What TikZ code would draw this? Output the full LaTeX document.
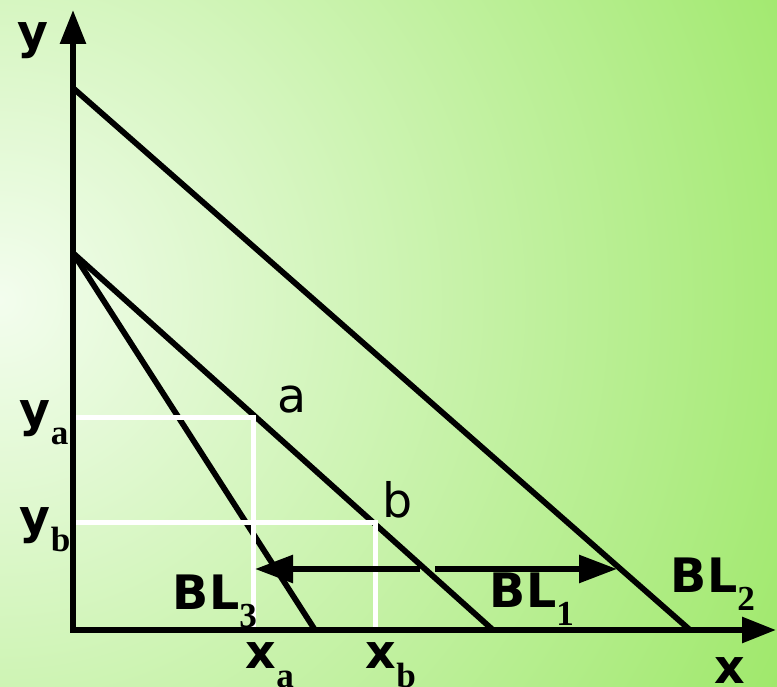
\documentclass[tikz,border=0pt]{standalone}
\usepackage{fontspec}
\setmainfont{DejaVu Sans}
\newfontfamily\subfam{Liberation Serif}
\usetikzlibrary{arrows.meta}
\definecolor{bglight}{RGB}{243,253,238}
\definecolor{bggreen}{RGB}{142,228,80}
\newcommand{\axlab}{\fontsize{27}{30}\selectfont\bfseries}
\newcommand{\ptlab}{\fontsize{27}{30}\selectfont}
\newcommand{\lowsub}[1]{\lower0.36cm\hbox{\subfam\bfseries\fontsize{20}{22}\selectfont #1}}

\begin{document}
\begin{tikzpicture}[line width=0.115cm,
  lbl/.style={anchor=base west, inner sep=0pt, font=\axlab},
  pnt/.style={anchor=base west, inner sep=0pt, font=\ptlab},
  guide/.style={white, line width=0.1cm},
  axis/.style={{Triangle[length=0.68cm,width=0.5cm]}-{Triangle[length=0.68cm,width=0.5cm]}},
  movearrow/.style={-{Triangle[length=0.76cm,width=0.54cm]}}]
\useasboundingbox (-1.46,-1.12) rectangle (14.08,12.6);
% background
\begin{scope}
\clip (-1.46,-1.12) rectangle (14.08,12.6);
\shade[inner color=bglight, outer color=bggreen] (-1.46,6.6) circle (21);
\end{scope}

\coordinate (O) at (0,0);
\coordinate (ytop) at (0,12.4);
\coordinate (xend) at (14.06,0);
\coordinate (top2) at (0,10.84);
\coordinate (cut2) at (12.34,0);
\coordinate (top1) at (0,7.54);
\coordinate (cut1) at (8.4,0);
\coordinate (cut3) at (4.84,0);
\coordinate (a) at (3.6,4.24);
\coordinate (b) at (6.04,2.14);
\coordinate (ya) at (0,4.24);
\coordinate (yb) at (0,2.14);
\coordinate (xa) at (3.6,0);
\coordinate (xb) at (6.04,0);
\coordinate (lstart) at (6.94,1.22);
\coordinate (lend) at (3.64,1.22);
\coordinate (rstart) at (7.24,1.22);
\coordinate (rend) at (10.88,1.22);

% budget lines
\draw (top2) -- (cut2);
\draw (top1) -- (cut1);
\draw (top1) -- (cut3);

% guides to the axes
\draw[guide] (ya) -| (xa);
\draw[guide] (yb) -| (xb);

\draw[axis] (ytop) -- (O) -- (xend);

\draw[movearrow] (lstart) -- (lend);
\draw[movearrow] (rstart) -- (rend);

\node[lbl] (ylab) at (-1.16,11.62) {y};
\node[lbl] (xlab) at (12.78,-1.06) {x};
\node[lbl] (yalab) at (-1.12,4.06) {y\lowsub{a}};
\node[lbl] (yblab) at (-1.12,1.92) {y\lowsub{b}};
\node[lbl] (xalab) at (3.4,-0.78) {x\lowsub{a}};
\node[lbl] (xblab) at (5.8,-0.78) {x\lowsub{b}};
\node[pnt] (alab) at (4.04,4.34) {a};
\node[pnt] (blab) at (6.14,2.24) {b};
\node[lbl] (bl3) at (1.94,0.4) {BL\lowsub{3}};
\node[lbl] (bl1) at (8.28,0.44) {BL\lowsub{1}};
\node[lbl] (bl2) at (11.9,0.74) {BL\lowsub{2}};
\end{tikzpicture}
\end{document}
